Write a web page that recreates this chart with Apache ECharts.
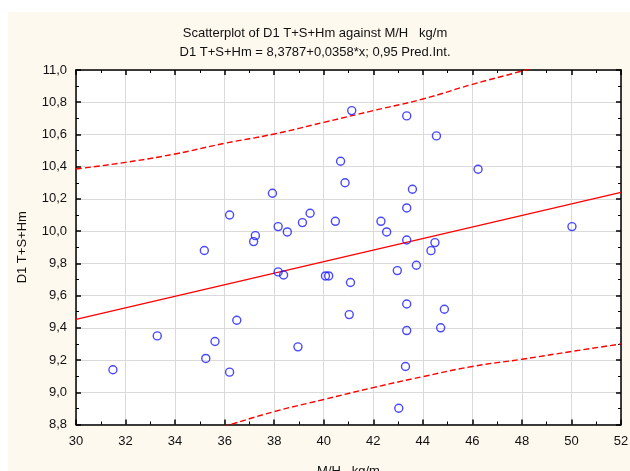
<!DOCTYPE html>
<html>
<head>
<meta charset="utf-8">
<script src="https://cdn.jsdelivr.net/npm/echarts@6/dist/echarts.min.js"></script>
<style>
  html, body { margin: 0; padding: 0; background: #fff; }
  #myChart { width: 630px; height: 471px; }
</style>
</head>
<body>
<div id="myChart"></div>
<script>
// scatter points: M/H kg/m (x) vs D1 T+S+Hm (y)
var mhValues = [31.49, 33.28, 35.18, 35.24, 35.61, 36.20, 36.20, 36.49, 37.17, 37.24,
  37.93, 38.16, 38.16, 38.38, 38.53, 38.96, 39.14, 39.45, 40.07, 40.20,
  40.47, 40.68, 40.86, 41.03, 41.08, 41.13, 42.31, 42.54, 42.97, 43.03,
  43.30, 43.35, 43.35, 43.35, 43.35, 43.35, 43.58, 43.74, 44.33, 44.49,
  44.55, 44.72, 44.87, 46.23, 50.02];
var d1Values = [9.14, 9.35, 9.88, 9.21, 9.315, 10.10, 9.125, 9.447, 9.935, 9.972,
  10.235, 10.028, 9.747, 9.728, 9.995, 9.282, 10.053, 10.111, 9.722, 9.722,
  10.061, 10.434, 10.30, 9.482, 9.681, 10.748, 10.061, 9.995, 9.755, 8.901,
  9.16, 10.715, 10.144, 9.945, 9.548, 9.383, 10.26, 9.788, 9.879, 9.929,
  10.591, 9.40, 9.515, 10.384, 10.028];

// fitted line D1 = 8,3787 + 0,0358*x, end points
var fitX = [30, 52];
var fitY = [9.4527, 10.2403];

// 0,95 prediction interval
var bandX = [30, 32, 34, 36, 38, 40, 42, 44, 46, 48, 50, 52];
var upperY = [10.386, 10.427, 10.479, 10.545, 10.603, 10.675, 10.748, 10.82, 10.911, 10.994, 11.085, 11.18];
var lowerY = [8.52, 8.62, 8.71, 8.79, 8.88, 8.955, 9.029, 9.097, 9.16, 9.205, 9.253, 9.30];

function pairs(xs, ys) {
  return xs.map(function (x, i) { return [x, ys[i]]; });
}
function comma(v) {
  return v.toFixed(1).replace('.', ',');
}

var font = 'Liberation Sans, Arial, sans-serif';
var axisCommon = {
  axisLine: { show: true, onZero: false, lineStyle: { color: '#000', width: 1.5 } },
  axisTick: { show: true, inside: true, length: 5, lineStyle: { color: '#000', width: 1.5 } },
  minorTick: { show: true, splitNumber: 2, length: 3, lineStyle: { color: '#000', width: 1 } },
  splitLine: { show: false }
};

var options = {
  backgroundColor: '#fff',
  animation: false,
  graphic: [{
    type: 'rect',
    z: -10,
    shape: { x: 8, y: 12, width: 622, height: 459 },
    style: { fill: '#fdf9ef' }
  }, {
    type: 'text',
    left: 'center',
    top: 27,
    style: { text: 'Scatterplot of D1 T+S+Hm against M/H   kg/m', font: '13px ' + font, fill: '#111' }
  }, {
    type: 'text',
    left: 'center',
    top: 46,
    style: { text: 'D1 T+S+Hm = 8,3787+0,0358*x; 0,95 Pred.Int.', font: '13px ' + font, fill: '#111' }
  }],
  grid: {
    left: 76, top: 70, width: 545, height: 354.5,
    outerBoundsMode: 'none', containLabel: false,
    show: true, backgroundColor: '#fff', borderWidth: 0
  },
  xAxis: [
    Object.assign({}, axisCommon, {
      type: 'value', min: 30, max: 52, interval: 2, position: 'bottom',
      name: 'M/H   kg/m', nameLocation: 'middle', nameGap: 40,
      nameTextStyle: { fontFamily: font, fontSize: 13, color: '#111' },
      axisLabel: { fontFamily: font, fontSize: 13, color: '#111', margin: 10 },
      splitLine: { show: true, lineStyle: { color: '#dadada', width: 1 } }
    }),
    Object.assign({}, axisCommon, {
      type: 'value', min: 30, max: 52, interval: 2, position: 'top',
      axisLabel: { show: false }
    })
  ],
  yAxis: [
    Object.assign({}, axisCommon, {
      type: 'value', min: 8.8, max: 11.0, interval: 0.2, position: 'left',
      name: 'D1 T+S+Hm', nameLocation: 'middle', nameGap: 47,
      nameTextStyle: { fontFamily: font, fontSize: 13, color: '#111' },
      axisLabel: { fontFamily: font, fontSize: 13, color: '#111', margin: 9, formatter: comma },
      splitLine: { show: true, lineStyle: { color: '#dadada', width: 1 } }
    }),
    Object.assign({}, axisCommon, {
      type: 'value', min: 8.8, max: 11.0, interval: 0.2, position: 'right',
      axisLabel: { show: false }
    })
  ],
  series: [
    {
      type: 'line',
      data: pairs(bandX, upperY),
      smooth: true,
      symbol: 'none',
      clip: true,
      lineStyle: { color: '#ff0000', width: 1.4, type: [6, 3] },
      z: 3
    },
    {
      type: 'line',
      data: pairs(bandX, lowerY),
      smooth: true,
      symbol: 'none',
      clip: true,
      lineStyle: { color: '#ff0000', width: 1.4, type: [6, 3] },
      z: 3
    },
    {
      type: 'line',
      data: pairs(fitX, fitY),
      symbol: 'none',
      clip: true,
      lineStyle: { color: '#ff0000', width: 1.3 },
      z: 3
    },
    {
      type: 'scatter',
      data: pairs(mhValues, d1Values),
      symbol: 'circle',
      symbolSize: 8,
      itemStyle: { color: 'rgba(0,0,0,0)', borderColor: '#1a1aff', borderWidth: 1.4 },
      z: 4
    }
  ]
};

var myChart = echarts.init(document.getElementById('myChart'), null, { renderer: 'canvas' });
myChart.setOption(options);
</script>
</body>
</html>
